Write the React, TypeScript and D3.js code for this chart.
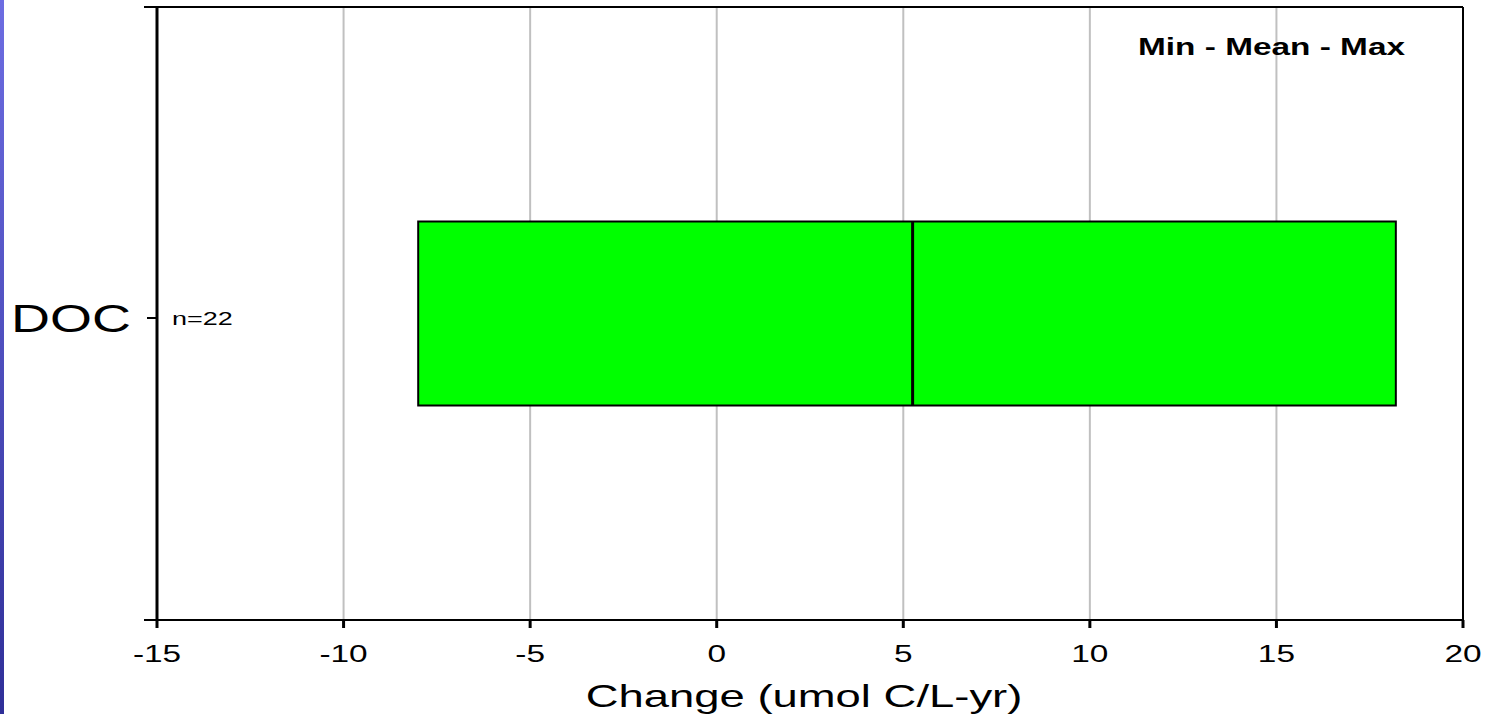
import React from "react";
import * as d3 from "d3";

const categories = ["DOC"];
const minValues = [-8.0];
const meanValues = [5.25];
const maxValues = [18.2];
const counts = ["n=22"];
const xTicks = [-15, -10, -5, 0, 5, 10, 15, 20];
const xDomain: [number, number] = [-15, 20];
const xTitle = "Change (umol C/L-yr)";
const legendText = "Min - Mean - Max";

const W = 1491;
const H = 714;
const SX = 1.42;
const FONT = "Arial, 'Liberation Sans', Helvetica, sans-serif";

function SText(props: { x: number; y: number; size: number; anchor: string; weight?: string; children: React.ReactNode }) {
  const { x, y, size, anchor, weight, children } = props;
  return (
    <text
      transform={`translate(${x},${y}) scale(${SX},1)`}
      fontSize={size}
      fontFamily={FONT}
      fontWeight={weight || "normal"}
      textAnchor={anchor}
      fill="#000"
    >
      {children}
    </text>
  );
}

export default function App() {
  const left = 157;
  const right = 1463;
  const top = 7;
  const bottom = 620;
  const x = d3.scaleLinear().domain(xDomain).range([left, right]);
  const y = d3.scaleBand<string>().domain(categories).range([top, bottom]).paddingInner(0).paddingOuter(0);
  const boxH = 184;

  return (
    <svg width={W} height={H} style={{ position: "absolute", left: 0, top: 0, background: "#fff" }}>
      <defs>
        <linearGradient id="strip" x1="0" y1="0" x2="0" y2="1">
          <stop offset="0" stopColor="#6d6de2" />
          <stop offset="1" stopColor="#2f2f98" />
        </linearGradient>
      </defs>
      <rect x={0} y={0} width={4} height={H} fill="url(#strip)" />

      {/* gridlines */}
      {xTicks.map((t) => (
        <line key={"g" + t} x1={x(t)} x2={x(t)} y1={top} y2={bottom} stroke="#c0c0c0" strokeWidth={2} />
      ))}

      {/* frame */}
      <line x1={144} x2={right} y1={top} y2={top} stroke="#000" strokeWidth={2} />
      <line x1={right} x2={right} y1={top} y2={bottom} stroke="#000" strokeWidth={2} />

      {/* boxes */}
      {categories.map((c, i) => {
        const cy = (y(c) as number) + y.bandwidth() / 2;
        return (
          <g key={c}>
            <rect
              x={x(minValues[i])}
              y={cy - boxH / 2}
              width={x(maxValues[i]) - x(minValues[i])}
              height={boxH}
              fill="#00ff00"
              stroke="#000"
              strokeWidth={2}
            />
            <line x1={x(meanValues[i])} x2={x(meanValues[i])} y1={cy - boxH / 2} y2={cy + boxH / 2} stroke="#000" strokeWidth={3} />
            <line x1={left - 10} x2={left} y1={cy + 4.5} y2={cy + 4.5} stroke="#000" strokeWidth={2} />
            <SText x={131} y={cy + 18.5} size={38} anchor="end">{c}</SText>
            <SText x={172} y={cy + 11.5} size={19} anchor="start">{counts[i]}</SText>
          </g>
        );
      })}

      {/* axes */}
      <line x1={left} x2={left} y1={top} y2={bottom} stroke="#000" strokeWidth={3} />
      <line x1={144} x2={right} y1={bottom} y2={bottom} stroke="#000" strokeWidth={2} />
      {xTicks.map((t) => (
        <g key={"t" + t}>
          <line x1={x(t)} x2={x(t)} y1={bottom} y2={bottom + 8} stroke="#000" strokeWidth={3} />
          <SText x={x(t)} y={662} size={23.5} anchor="middle">{String(t)}</SText>
        </g>
      ))}

      <SText x={(left + right) / 2 - 6} y={707} size={32} anchor="middle">{xTitle}</SText>
      <SText x={1405} y={55} size={23.5} anchor="end" weight="bold">{legendText}</SText>
    </svg>
  );
}
